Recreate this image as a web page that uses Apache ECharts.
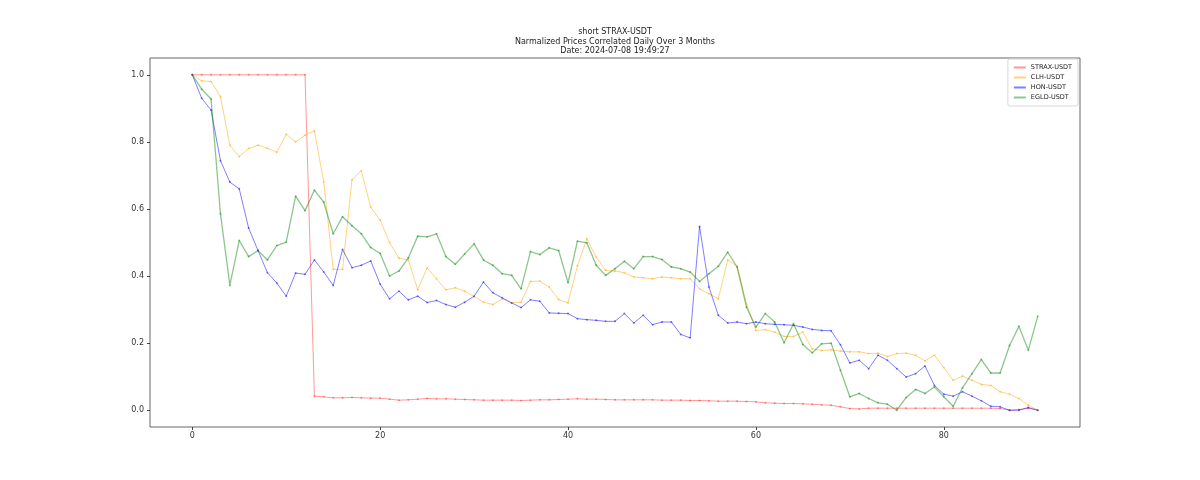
<!DOCTYPE html>
<html>
<head>
<meta charset="utf-8">
<script src="https://cdn.jsdelivr.net/npm/echarts@6/dist/echarts.min.js"></script>
<style>
  html, body { margin: 0; padding: 0; background: #fff; }
  #chart { width: 1200px; height: 480px; }
</style>
</head>
<body>
<div id="chart"></div>
<script>
// normalized prices, one value per day (0..90)
const straxValues = [
  1.0, 1.0, 1.0, 1.0, 1.0, 1.0, 1.0, 1.0, 1.0, 1.0, 1.0, 1.0, 1.0,
  0.042, 0.04, 0.037, 0.037, 0.038, 0.037, 0.036, 0.036, 0.033, 0.03, 0.031, 0.033,
  0.035, 0.034, 0.034, 0.033, 0.032, 0.031, 0.03, 0.03, 0.03, 0.03, 0.029, 0.03,
  0.031, 0.031, 0.032, 0.033, 0.034, 0.033, 0.033, 0.032, 0.031, 0.031, 0.031, 0.031,
  0.031, 0.03, 0.03, 0.03, 0.029, 0.029, 0.028, 0.027, 0.027, 0.027, 0.026, 0.025,
  0.022, 0.021, 0.02, 0.02, 0.019, 0.018, 0.016, 0.015, 0.01, 0.005, 0.004, 0.006,
  0.006, 0.006, 0.006, 0.006, 0.006, 0.006, 0.006, 0.006, 0.006, 0.006, 0.006, 0.006,
  0.006, 0.005, 0.0, 0.002, 0.006, 0.0
]
const clhValues = [
  1.0, 0.982, 0.98, 0.935, 0.79, 0.756, 0.78, 0.79, 0.781, 0.769, 0.823, 0.8, 0.82,
  0.833, 0.68, 0.42, 0.42, 0.687, 0.714, 0.605, 0.567, 0.5, 0.453, 0.448, 0.359,
  0.424, 0.392, 0.359, 0.365, 0.355, 0.339, 0.322, 0.315, 0.332, 0.32, 0.322, 0.384,
  0.385, 0.367, 0.33, 0.32, 0.43, 0.511, 0.456, 0.417, 0.415, 0.41, 0.397, 0.395,
  0.392, 0.397, 0.395, 0.392, 0.392, 0.362, 0.347, 0.332, 0.448, 0.429, 0.317, 0.238,
  0.24, 0.233, 0.22, 0.22, 0.233, 0.183, 0.178, 0.18, 0.176, 0.174, 0.174, 0.169,
  0.17, 0.16, 0.169, 0.17, 0.164, 0.147, 0.164, 0.127, 0.089, 0.102, 0.089, 0.077,
  0.074, 0.055, 0.048, 0.035, 0.015, 0.0
]
const honValues = [
  1.0, 0.93, 0.895, 0.744, 0.68, 0.66, 0.543, 0.476, 0.41, 0.379, 0.34, 0.409, 0.405,
  0.448, 0.412, 0.372, 0.479, 0.425, 0.432, 0.445, 0.376, 0.332, 0.355, 0.329, 0.34,
  0.321, 0.327, 0.315, 0.307, 0.322, 0.34, 0.382, 0.35, 0.335, 0.32, 0.306, 0.329,
  0.325, 0.29, 0.289, 0.288, 0.273, 0.27, 0.268, 0.265, 0.265, 0.288, 0.26, 0.283,
  0.255, 0.263, 0.263, 0.226, 0.216, 0.548, 0.367, 0.283, 0.26, 0.263, 0.258, 0.263,
  0.258, 0.256, 0.255, 0.253, 0.248, 0.241, 0.238, 0.237, 0.195, 0.141, 0.149, 0.124,
  0.164, 0.149, 0.124, 0.099, 0.109, 0.132, 0.074, 0.048, 0.042, 0.055, 0.042, 0.028,
  0.012, 0.01, 0.0, 0.0, 0.008, 0.0
]
const egldValues = [
  1.0, 0.957, 0.928, 0.586, 0.372, 0.506, 0.458, 0.476, 0.448, 0.491, 0.501, 0.638, 0.595,
  0.656, 0.62, 0.526, 0.577, 0.55, 0.526, 0.485, 0.467, 0.4, 0.415, 0.454, 0.519,
  0.517, 0.526, 0.458, 0.435, 0.466, 0.496, 0.448, 0.432, 0.407, 0.402, 0.362, 0.473,
  0.464, 0.484, 0.476, 0.38, 0.504, 0.499, 0.432, 0.402, 0.422, 0.444, 0.422, 0.458,
  0.458, 0.449, 0.427, 0.422, 0.412, 0.384, 0.407, 0.429, 0.471, 0.427, 0.307, 0.248,
  0.288, 0.263, 0.201, 0.258, 0.196, 0.171, 0.198, 0.2, 0.119, 0.04, 0.05, 0.035,
  0.022, 0.018, 0.0, 0.038, 0.062, 0.05, 0.069, 0.04, 0.012, 0.067, 0.109, 0.151,
  0.111, 0.111, 0.193, 0.25, 0.179, 0.28
]
const titleLines = [
  'short STRAX-USDT',
  'Narmalized Prices Correlated Daily Over 3 Months',
  'Date: 2024-07-08 19:49:27'
]
const xTicks = [0, 20, 40, 60, 80]
const yTicks = [0.0, 0.2, 0.4, 0.6, 0.8, 1.0]

const chart = echarts.init(document.getElementById('chart'))
const font = 'DejaVu Sans'

function makeSeries (name, values, color, width, alpha) {
  return {
    name: name,
    type: 'line',
    data: values.map((v, i) => [i, v]),
    symbol: 'circle',
    symbolSize: 2,
    showSymbol: true,
    animation: false,
    color: color,
    itemStyle: { color: color, opacity: alpha },
    lineStyle: { color: color, width: width, opacity: alpha },
    emphasis: { disabled: true }
  }
}

const option = {
  backgroundColor: '#ffffff',
  animation: false,
  title: titleLines.map((t, i) => ({
    text: t,
    left: 615,
    top: 28 + i * 9.5,
    padding: 0,
    textAlign: 'center',
    textStyle: {
      fontFamily: font,
      fontSize: 8,
      fontWeight: 'normal',
      color: '#222'
    }
  })),
  legend: {
    orient: 'vertical',
    right: 122,
    top: 59,
    icon: 'rect',
    itemWidth: 12,
    itemHeight: 2,
    itemGap: 3,
    padding: [5, 6, 5, 6],
    borderColor: '#d8d8d8',
    borderWidth: 1,
    borderRadius: 2,
    textStyle: { fontFamily: font, fontSize: 6.5, color: '#222' },
    data: ['STRAX-USDT', 'CLH-USDT', 'HON-USDT', 'EGLD-USDT']
  },
  grid: {
    left: 150,
    right: 120,
    top: 58,
    bottom: 53,
    show: true,
    borderColor: '#666',
    borderWidth: 1,
    backgroundColor: 'transparent'
  },
  xAxis: {
    type: 'value',
    min: -4.5,
    max: 94.5,
    splitLine: { show: false },
    axisLine: { show: false, onZero: false },
    axisTick: { show: true, customValues: xTicks, length: 3, lineStyle: { color: '#444' } },
    axisLabel: {
      customValues: xTicks,
      fontFamily: font,
      fontSize: 8,
      color: '#333',
      margin: 5
    }
  },
  yAxis: {
    type: 'value',
    min: -0.05,
    max: 1.05,
    splitLine: { show: false },
    axisLine: { show: false, onZero: false },
    axisTick: { show: true, customValues: yTicks, length: 3, lineStyle: { color: '#444' } },
    axisLabel: {
      customValues: yTicks,
      formatter: v => v.toFixed(1),
      fontFamily: font,
      fontSize: 8,
      color: '#333',
      margin: 6
    }
  },
  series: [
    makeSeries('STRAX-USDT', straxValues, '#ff0000', 1, 0.4),
    makeSeries('CLH-USDT', clhValues, '#ffa500', 1, 0.5),
    makeSeries('HON-USDT', honValues, '#0000ff', 1, 0.5),
    makeSeries('EGLD-USDT', egldValues, '#008000', 1.3, 0.45)
  ]
}

chart.setOption(option)
</script>
</body>
</html>
